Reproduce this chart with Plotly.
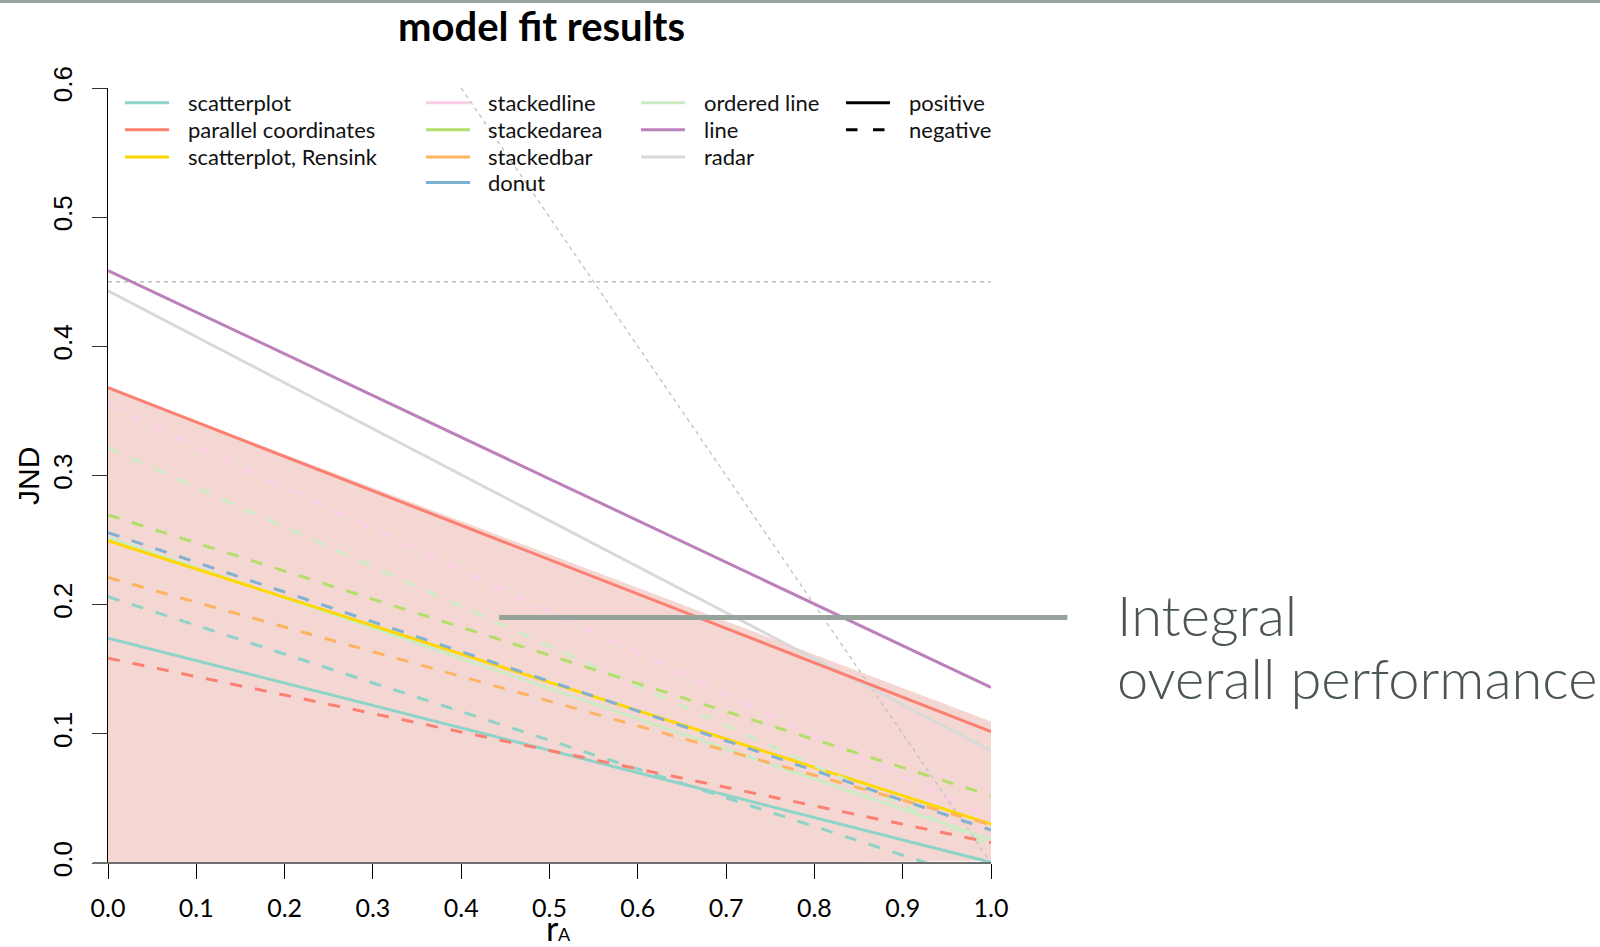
import plotly.graph_objects as go

# ------------------------------------------------------------------ data
r_A = [0.0, 1.0]

solid_names = ["radar", "ordered line", "scatterplot", "scatterplot, Rensink",
               "parallel coordinates", "line"]
solid_start = [0.443, 0.252, 0.174, 0.2496, 0.368, 0.4587]
solid_end = [0.087, 0.0183, 0.0005, 0.0302, 0.1017, 0.136]

dashed_names = ["ordered line", "stackedline", "stackedarea", "stackedbar",
                "scatterplot", "parallel coordinates", "donut"]
dashed_start = [0.3216, 0.3547, 0.2695, 0.221, 0.2062, 0.1586, 0.2558]
dashed_end = [0.014, 0.0346, 0.0521, 0.0296, -0.0162, 0.0157, 0.0255]

band_x = [0.0, 0.0, 1.0008, 1.005]
band_y = [-0.003, 0.368, 0.1094, 0.0015]

ref_h_x = [0.0, 1.0]
ref_h_y = [0.45, 0.45]
ref_diag_x = [0.4, 1.0]
ref_diag_y = [0.6, 0.0]

integral_x = [0.443, 1.0865]
integral_y = 0.19

legend_cols = [
    ["scatterplot", "parallel coordinates", "scatterplot, Rensink"],
    ["stackedline", "stackedarea", "stackedbar", "donut"],
    ["ordered line", "line", "radar"],
]
legend_styles = ["positive", "negative"]

x_ticks = [0.0, 0.1, 0.2, 0.3, 0.4, 0.5, 0.6, 0.7, 0.8, 0.9, 1.0]
y_ticks = [0.0, 0.1, 0.2, 0.3, 0.4, 0.5, 0.6]

side_label = ["Integral", "overall performance"]

colors = {
    "scatterplot": "#8dd3c7",
    "parallel coordinates": "#fb8072",
    "scatterplot, Rensink": "#ffd700",
    "stackedline": "#fccde5",
    "stackedarea": "#b3de69",
    "stackedbar": "#fdb462",
    "donut": "#80b1d3",
    "ordered line": "#ccebc5",
    "line": "#bc80bd",
    "radar": "#d9d9d9",
}

# ------------------------------------------------------------------ layout geometry
W, H = 1600, 947
L, T, PW, PH = 108, 88, 883, 775
R = W - L - PW
B = H - T - PH
Y_MAX = 0.6
DASH = "12px,13px"
LW = 3


def px(xp):
    return (xp - L) / PW


def py(yp):
    return (T + PH - yp) / PH


fig = go.Figure()

# confidence band
fig.add_trace(go.Scatter(x=band_x, y=band_y, fill="toself", mode="lines",
                         line=dict(width=0), fillcolor="#f4d7d3",
                         hoverinfo="skip", showlegend=False))

# reference lines
fig.add_trace(go.Scatter(x=ref_h_x, y=ref_h_y, mode="lines",
                         line=dict(color="#c0c0c0", width=1.3, dash="4px,4px"),
                         showlegend=False))
fig.add_trace(go.Scatter(x=ref_diag_x, y=ref_diag_y, mode="lines",
                         line=dict(color="#c0c0c0", width=1.3, dash="4px,4px"),
                         showlegend=False))

for n, a, b in zip(solid_names, solid_start, solid_end):
    fig.add_trace(go.Scatter(x=r_A, y=[a, b], mode="lines", name=n,
                             line=dict(color=colors[n], width=LW),
                             showlegend=False))
for n, a, b in zip(dashed_names, dashed_start, dashed_end):
    fig.add_trace(go.Scatter(x=r_A, y=[a, b], mode="lines", name=n,
                             line=dict(color=colors[n], width=LW, dash=DASH),
                             showlegend=False))

shapes = []
annotations = []

# top stripe
shapes.append(dict(type="rect", xref="paper", yref="paper",
                   x0=px(0), x1=px(W), y0=py(3), y1=py(0),
                   fillcolor="#95a39b", line=dict(width=0), layer="above"))

# x baseline (extends slightly left of y axis)
shapes.append(dict(type="line", xref="paper", yref="paper",
                   x0=px(93), x1=1.0, y0=0, y1=0,
                   line=dict(color="#6f6f6f", width=2.2), layer="above"))

# integral marker bar
shapes.append(dict(type="line", xref="paper", yref="paper",
                   x0=integral_x[0], x1=integral_x[1],
                   y0=integral_y / Y_MAX, y1=integral_y / Y_MAX,
                   line=dict(color="#95a39b", width=5), layer="above"))

# legend
col_line_x = [125, 426, 641, 846]
col_text_x = [186, 486, 702, 907]
row_y = [102.7, 129.8, 157, 182.5]
LEG_LEN = 44
LEG_FONT = dict(family="Lato", size=22, color="#111111")

for c, names in enumerate(legend_cols):
    for r, n in enumerate(names):
        shapes.append(dict(type="line", xref="paper", yref="paper",
                           x0=px(col_line_x[c]), x1=px(col_line_x[c] + LEG_LEN),
                           y0=py(row_y[r]), y1=py(row_y[r]),
                           line=dict(color=colors[n], width=3)))
        annotations.append(dict(text=n, xref="paper", yref="paper",
                                x=px(col_text_x[c]), y=py(row_y[r]),
                                xanchor="left", yanchor="middle",
                                showarrow=False, font=LEG_FONT))
for r, s in enumerate(legend_styles):
    shapes.append(dict(type="line", xref="paper", yref="paper",
                       x0=px(col_line_x[3]), x1=px(col_line_x[3] + LEG_LEN),
                       y0=py(row_y[r]), y1=py(row_y[r]),
                       line=dict(color="black", width=3,
                                 dash="solid" if s == "positive" else "11.5px,15.5px")))
    annotations.append(dict(text=s, xref="paper", yref="paper",
                            x=px(col_text_x[3]), y=py(row_y[r]),
                            xanchor="left", yanchor="middle",
                            showarrow=False, font=LEG_FONT))

# title
annotations.append(dict(text="<b>model fit results</b>", xref="paper", yref="paper",
                        x=px(541.5), y=py(26), xanchor="center", yanchor="middle",
                        showarrow=False,
                        font=dict(family="Lato", size=40, color="black")))
# axis titles
annotations.append(dict(text="JND", xref="paper", yref="paper",
                        x=px(28), y=py(476), xanchor="center", yanchor="middle",
                        textangle=-90, showarrow=False,
                        font=dict(family="Liberation Sans", size=30, color="black")))
annotations.append(dict(text="r", xref="paper", yref="paper",
                        x=px(545), y=py(927), xanchor="left", yanchor="middle",
                        showarrow=False, borderpad=0,
                        font=dict(family="Lato", size=34, color="black")))
annotations.append(dict(text="A", xref="paper", yref="paper",
                        x=px(557), y=py(934), xanchor="left", yanchor="middle",
                        showarrow=False, borderpad=0,
                        font=dict(family="Lato", size=18, color="black")))
# side label
for txt, yc in zip(side_label, [614, 677]):
    annotations.append(dict(text=txt, xref="paper", yref="paper",
                            x=px(1115), y=py(yc), xanchor="left", yanchor="middle",
                            align="left", showarrow=False,
                            font=dict(family="Lato", size=56, color="#4b5651", weight=300)))

fig.update_layout(
    width=W, height=H,
    margin=dict(l=L, r=R, t=T, b=B, pad=0),
    paper_bgcolor="white", plot_bgcolor="white",
    showlegend=False,
    shapes=shapes, annotations=annotations,
    xaxis=dict(range=[0, 1], tickvals=x_ticks, ticktext=[f"{v:.1f}" for v in x_ticks],
               showgrid=False, zeroline=False, showline=False,
               ticks="outside", ticklen=15, tickwidth=1.2, tickcolor="black",
               tickfont=dict(family="Lato", size=25, color="black"),
               ticklabelstandoff=8),
    yaxis=dict(range=[0, Y_MAX], tickvals=y_ticks, ticktext=[f"{v:.1f}" for v in y_ticks],
               showgrid=False, zeroline=False, showline=True, linecolor="black", linewidth=1.2,
               ticks="outside", ticklen=15, tickwidth=1.2, tickcolor="#333333",
               tickangle=-90,
               tickfont=dict(family="Liberation Sans", size=26, color="black"),
               ticklabelstandoff=10),
)

fig.write_html("out.html")
